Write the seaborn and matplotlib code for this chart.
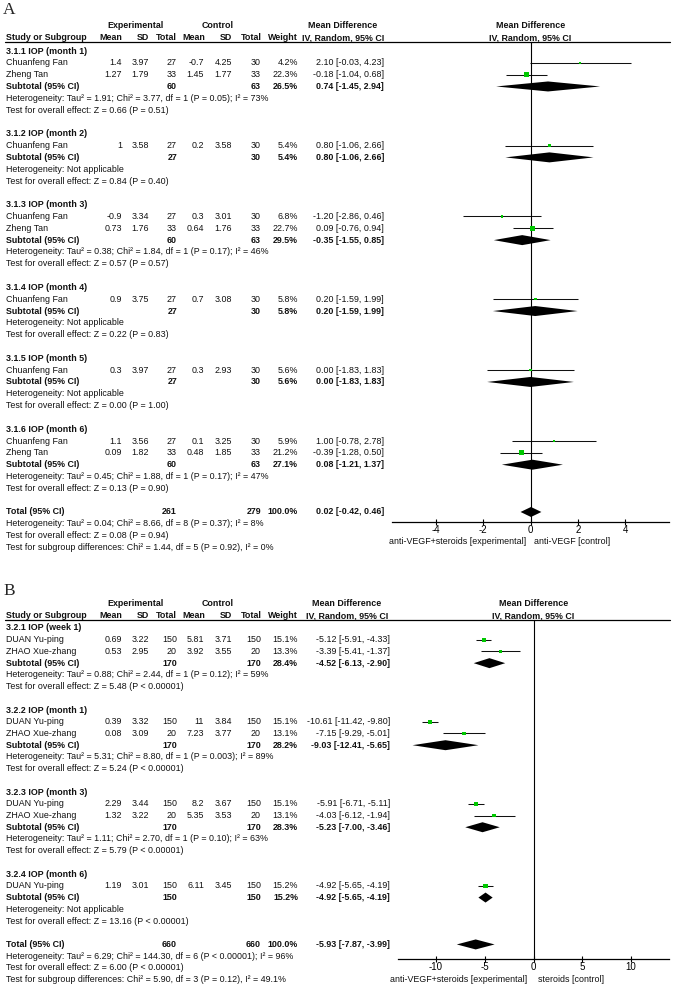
import numpy as np
import pandas as pd
import matplotlib
matplotlib.use('Agg')
import matplotlib.pyplot as plt
import seaborn as sns

# ---- panel A: anti-VEGF+steroids vs anti-VEGF ----
a_groups = ['3.1.1 IOP (month 1)', '3.1.2 IOP (month 2)', '3.1.3 IOP (month 3)',
            '3.1.4 IOP (month 4)', '3.1.5 IOP (month 5)', '3.1.6 IOP (month 6)']
a_group_of_study = [0, 0, 1, 2, 2, 3, 4, 5, 5]
a_studies = ['Chuanfeng Fan', 'Zheng Tan', 'Chuanfeng Fan', 'Chuanfeng Fan', 'Zheng Tan',
             'Chuanfeng Fan', 'Chuanfeng Fan', 'Chuanfeng Fan', 'Zheng Tan']
a_exp_mean = [1.4, 1.27, 1, -0.9, 0.73, 0.9, 0.3, 1.1, 0.09]
a_exp_sd = [3.97, 1.79, 3.58, 3.34, 1.76, 3.75, 3.97, 3.56, 1.82]
a_exp_n = [27, 33, 27, 27, 33, 27, 27, 27, 33]
a_ctl_mean = [-0.7, 1.45, 0.2, 0.3, 0.64, 0.7, 0.3, 0.1, 0.48]
a_ctl_sd = [4.25, 1.77, 3.58, 3.01, 1.76, 3.08, 2.93, 3.25, 1.85]
a_ctl_n = [30, 33, 30, 30, 33, 30, 30, 30, 33]
a_weight = [4.2, 22.3, 5.4, 6.8, 22.7, 5.8, 5.6, 5.9, 21.2]
a_md = [2.10, -0.18, 0.80, -1.20, 0.09, 0.20, 0.00, 1.00, -0.39]
a_lo = [-0.03, -1.04, -1.06, -2.86, -0.76, -1.59, -1.83, -0.78, -1.28]
a_hi = [4.23, 0.68, 2.66, 0.46, 0.94, 1.99, 1.83, 2.78, 0.50]

a_sub_exp_n = [60, 27, 60, 27, 27, 60]
a_sub_ctl_n = [63, 30, 63, 30, 30, 63]
a_sub_weight = [26.5, 5.4, 29.5, 5.8, 5.6, 27.1]
a_sub_md = [0.74, 0.80, -0.35, 0.20, 0.00, 0.08]
a_sub_lo = [-1.45, -1.06, -1.55, -1.59, -1.83, -1.21]
a_sub_hi = [2.94, 2.66, 0.85, 1.99, 1.83, 1.37]
a_sub_het = ['Heterogeneity: Tau² = 1.91; Chi² = 3.77, df = 1 (P = 0.05); I² = 73%',
             'Heterogeneity: Not applicable',
             'Heterogeneity: Tau² = 0.38; Chi² = 1.84, df = 1 (P = 0.17); I² = 46%',
             'Heterogeneity: Not applicable',
             'Heterogeneity: Not applicable',
             'Heterogeneity: Tau² = 0.45; Chi² = 1.88, df = 1 (P = 0.17); I² = 47%']
a_sub_z = ['Test for overall effect: Z = 0.66 (P = 0.51)',
           'Test for overall effect: Z = 0.84 (P = 0.40)',
           'Test for overall effect: Z = 0.57 (P = 0.57)',
           'Test for overall effect: Z = 0.22 (P = 0.83)',
           'Test for overall effect: Z = 0.00 (P = 1.00)',
           'Test for overall effect: Z = 0.13 (P = 0.90)']
a_total = [261, 279, 100.0, 0.02, -0.42, 0.46]
a_total_text = ['Heterogeneity: Tau² = 0.04; Chi² = 8.66, df = 8 (P = 0.37); I² = 8%',
                'Test for overall effect: Z = 0.08 (P = 0.94)',
                'Test for subgroup differences: Chi² = 1.44, df = 5 (P = 0.92), I² = 0%']
a_ticks = [-4, -2, 0, 2, 4]
a_favours = ['anti-VEGF+steroids [experimental]', 'anti-VEGF [control]']

# ---- panel B: anti-VEGF+steroids vs steroids ----
b_groups = ['3.2.1 IOP (week 1)', '3.2.2 IOP (month 1)', '3.2.3 IOP (month 3)', '3.2.4 IOP (month 6)']
b_group_of_study = [0, 0, 1, 1, 2, 2, 3]
b_studies = ['DUAN Yu-ping', 'ZHAO Xue-zhang', 'DUAN Yu-ping', 'ZHAO Xue-zhang',
             'DUAN Yu-ping', 'ZHAO Xue-zhang', 'DUAN Yu-ping']
b_exp_mean = [0.69, 0.53, 0.39, 0.08, 2.29, 1.32, 1.19]
b_exp_sd = [3.22, 2.95, 3.32, 3.09, 3.44, 3.22, 3.01]
b_exp_n = [150, 20, 150, 20, 150, 20, 150]
b_ctl_mean = [5.81, 3.92, 11, 7.23, 8.2, 5.35, 6.11]
b_ctl_sd = [3.71, 3.55, 3.84, 3.77, 3.67, 3.53, 3.45]
b_ctl_n = [150, 20, 150, 20, 150, 20, 150]
b_weight = [15.1, 13.3, 15.1, 13.1, 15.1, 13.1, 15.2]
b_md = [-5.12, -3.39, -10.61, -7.15, -5.91, -4.03, -4.92]
b_lo = [-5.91, -5.41, -11.42, -9.29, -6.71, -6.12, -5.65]
b_hi = [-4.33, -1.37, -9.80, -5.01, -5.11, -1.94, -4.19]

b_sub_exp_n = [170, 170, 170, 150]
b_sub_ctl_n = [170, 170, 170, 150]
b_sub_weight = [28.4, 28.2, 28.3, 15.2]
b_sub_md = [-4.52, -9.03, -5.23, -4.92]
b_sub_lo = [-6.13, -12.41, -7.00, -5.65]
b_sub_hi = [-2.90, -5.65, -3.46, -4.19]
b_sub_het = ['Heterogeneity: Tau² = 0.88; Chi² = 2.44, df = 1 (P = 0.12); I² = 59%',
             'Heterogeneity: Tau² = 5.31; Chi² = 8.80, df = 1 (P = 0.003); I² = 89%',
             'Heterogeneity: Tau² = 1.11; Chi² = 2.70, df = 1 (P = 0.10); I² = 63%',
             'Heterogeneity: Not applicable']
b_sub_z = ['Test for overall effect: Z = 5.48 (P < 0.00001)',
           'Test for overall effect: Z = 5.24 (P < 0.00001)',
           'Test for overall effect: Z = 5.79 (P < 0.00001)',
           'Test for overall effect: Z = 13.16 (P < 0.00001)']
b_total = [660, 660, 100.0, -5.93, -7.87, -3.99]
b_total_text = ['Heterogeneity: Tau² = 6.29; Chi² = 144.30, df = 6 (P < 0.00001); I² = 96%',
                'Test for overall effect: Z = 6.00 (P < 0.00001)',
                'Test for subgroup differences: Chi² = 5.90, df = 3 (P = 0.12), I² = 49.1%']
b_ticks = [-10, -5, 0, 5, 10]
b_favours = ['anti-VEGF+steroids [experimental]', 'steroids [control]']

W, H = 677, 991
FS = 6.4
GREEN = '#00c800'

sns.set_style('white')
plt.rcParams['font.family'] = ['Liberation Sans', 'DejaVu Sans']


def px_axes(fig, x0, x1, y0, y1):
  # add an axes from pixel coordinates (y from the top)
  return fig.add_axes([x0 / W, 1 - y1 / H, (x1 - x0) / W, (y1 - y0) / H])


def ci_text(m, l, h):
  return '{:.2f} [{:.2f}, {:.2f}]'.format(m, l, h)


def panel_lines(n_groups, group_of_study):
  # line index of group headers, study rows and subtotal rows
  head, study, sub = [], [], []
  line = 0
  for g in range(n_groups):
    head.append(line)
    line += 1
    for k in range(len(group_of_study)):
      if group_of_study[k] == g:
        study.append(line)
        line += 1
    sub.append(line)
    line += 4
  return head, study, sub, line


def draw_panel(fig, bg, letter, letter_y, head_y, line0, step, axis_x, axis_y, xlim, ticks,
               md_right, md_head_x, favours, fav_gap,
               groups, group_of_study, studies, exp_mean, exp_sd, exp_n, ctl_mean, ctl_sd, ctl_n,
               weight, md, lo, hi, sub_exp_n, sub_ctl_n, sub_weight, sub_md, sub_lo, sub_hi,
               sub_het, sub_z, total, total_text):
  head, study_line, sub_line, tot_line = panel_lines(len(groups), group_of_study)
  ypos = lambda i: line0 + i * step

  studies_df = pd.DataFrame({'study': studies, 'md': md, 'lo': lo, 'hi': hi, 'weight': weight,
                             'y': [ypos(i) for i in study_line]})
  subs_df = pd.DataFrame({'md': sub_md, 'lo': sub_lo, 'hi': sub_hi,
                          'y': [ypos(i) for i in sub_line]})

  def txt(x, y, s, ha='left', bold=False):
    bg.text(x, y, s, ha=ha, va='center', fontsize=FS, color='#111111',
            fontweight='bold' if bold else 'normal')

  bg.text(3, letter_y, letter, fontsize=12.5, family='Liberation Serif', va='center', ha='left')

  # column headers
  plot_mid = axis_x[0] + (axis_x[1] - axis_x[0]) * (0 - xlim[0]) / (xlim[1] - xlim[0])
  txt(135, head_y, 'Experimental', 'center', True)
  txt(218, head_y, 'Control', 'center', True)
  txt(md_head_x, head_y, 'Mean Difference', 'center', True)
  txt(plot_mid, head_y, 'Mean Difference', 'center', True)
  y2 = head_y + 11.8
  txt(6, y2, 'Study or Subgroup', bold=True)
  for x, s in zip([122, 149, 177, 205, 232, 262, 298], ['Mean', 'SD', 'Total', 'Mean', 'SD', 'Total', 'Weight']):
    txt(x, y2, s, 'right', True)
  txt(md_head_x, y2, 'IV, Random, 95% CI', 'center', True)
  txt(plot_mid, y2, 'IV, Random, 95% CI', 'center', True)
  rule_y = y2 + 4.5
  bg.plot([5, 670], [rule_y, rule_y], color='black', lw=0.9)

  # study rows
  for k in range(len(studies)):
    y = ypos(study_line[k])
    txt(6, y, studies[k])
    txt(122, y, str(exp_mean[k]), 'right')
    txt(149, y, str(exp_sd[k]), 'right')
    txt(177, y, str(exp_n[k]), 'right')
    txt(204, y, str(ctl_mean[k]), 'right')
    txt(232, y, str(ctl_sd[k]), 'right')
    txt(261, y, str(ctl_n[k]), 'right')
    txt(298, y, '{:.1f}%'.format(weight[k]), 'right')
    txt(md_right, y, ci_text(md[k], lo[k], hi[k]), 'right')

  # subgroup rows
  for g in range(len(groups)):
    txt(6, ypos(head[g]), groups[g], bold=True)
    y = ypos(sub_line[g])
    txt(6, y, 'Subtotal (95% CI)', bold=True)
    txt(177, y, str(sub_exp_n[g]), 'right', True)
    txt(261, y, str(sub_ctl_n[g]), 'right', True)
    txt(298, y, '{:.1f}%'.format(sub_weight[g]), 'right', True)
    txt(md_right, y, ci_text(sub_md[g], sub_lo[g], sub_hi[g]), 'right', True)
    txt(6, ypos(sub_line[g] + 1), sub_het[g])
    txt(6, ypos(sub_line[g] + 2), sub_z[g])

  # overall
  y = ypos(tot_line)
  txt(6, y, 'Total (95% CI)', bold=True)
  txt(177, y, str(total[0]), 'right', True)
  txt(261, y, str(total[1]), 'right', True)
  txt(298, y, '{:.1f}%'.format(total[2]), 'right', True)
  txt(md_right, y, ci_text(total[3], total[4], total[5]), 'right', True)
  for i, s in enumerate(total_text):
    txt(6, ypos(tot_line + 1 + i), s)

  # forest plot
  ax = px_axes(fig, axis_x[0], axis_x[1], rule_y, axis_y)
  ax.hlines(studies_df['y'], studies_df['lo'], studies_df['hi'], color='#111111', lw=0.75)
  sns.scatterplot(data=studies_df, x='md', y='y', size='weight', sizes=(0, 58), size_norm=(0, 100),
                  marker='s', color=GREEN, linewidth=0, legend=False, ax=ax, zorder=3)
  for _, r in subs_df.iterrows():
    ax.fill([r['lo'], r['md'], r['hi'], r['md']], [r['y'], r['y'] - 5, r['y'], r['y'] + 5],
            color='black', lw=0)
  ty = ypos(tot_line)
  ax.fill([total[4], total[3], total[5], total[3]], [ty, ty - 5, ty, ty + 5], color='black', lw=0)
  ax.axvline(0, color='black', lw=0.8)
  ax.set_xlim(xlim)
  ax.set_ylim(axis_y, rule_y)
  ax.set_xlabel('')
  ax.set_ylabel('')
  ax.set_yticks([])
  ax.set_xticks(ticks)
  ax.set_xticklabels([str(t) for t in ticks])
  ax.tick_params(axis='x', direction='inout', length=5, width=0.8, labelsize=7, pad=0,
                 colors='black', bottom=True)
  for side in ['top', 'left', 'right']:
    ax.spines[side].set_visible(False)
  ax.spines['bottom'].set_color('black')
  ax.spines['bottom'].set_linewidth(0.9)
  ax.patch.set_alpha(0)

  txt(plot_mid - fav_gap[0], axis_y + 20, favours[0], 'right')
  txt(plot_mid + fav_gap[1], axis_y + 20, favours[1], 'left')


fig = plt.figure(figsize=(W / 100, H / 100), dpi=100)
bg = fig.add_axes([0, 0, 1, 1])
bg.set_xlim(0, W)
bg.set_ylim(H, 0)
bg.axis('off')

draw_panel(fig, bg, 'A', 10, 26, 51, 11.82, (392, 669), 522, (-5.85, 5.85), a_ticks,
           384, 343, a_favours, (4, 4),
           a_groups, a_group_of_study, a_studies, a_exp_mean, a_exp_sd, a_exp_n,
           a_ctl_mean, a_ctl_sd, a_ctl_n, a_weight, a_md, a_lo, a_hi,
           a_sub_exp_n, a_sub_ctl_n, a_sub_weight, a_sub_md, a_sub_lo, a_sub_hi,
           a_sub_het, a_sub_z, a_total, a_total_text)

draw_panel(fig, bg, 'B', 591, 604, 628, 11.72, (398, 669), 959, (-13.9, 13.9), b_ticks,
           390, 347, b_favours, (6, 4),
           b_groups, b_group_of_study, b_studies, b_exp_mean, b_exp_sd, b_exp_n,
           b_ctl_mean, b_ctl_sd, b_ctl_n, b_weight, b_md, b_lo, b_hi,
           b_sub_exp_n, b_sub_ctl_n, b_sub_weight, b_sub_md, b_sub_lo, b_sub_hi,
           b_sub_het, b_sub_z, b_total, b_total_text)

fig.savefig('out.png', dpi=100)
